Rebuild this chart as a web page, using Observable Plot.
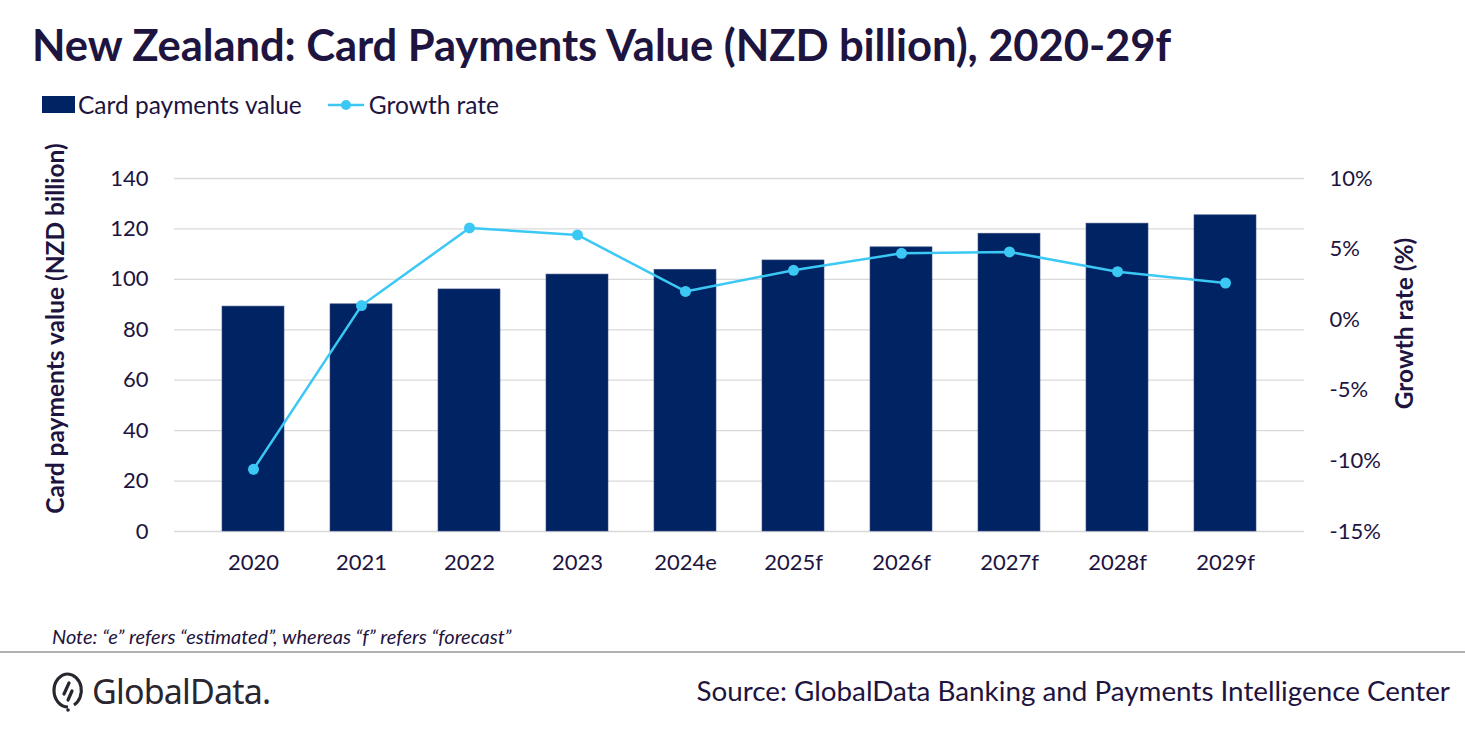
<!DOCTYPE html>
<html>
<head>
<meta charset="utf-8">
<script src="https://cdn.jsdelivr.net/npm/d3@7"></script>
<script src="https://cdn.jsdelivr.net/npm/@observablehq/plot@0.6"></script>
<style>
  html, body { margin: 0; padding: 0; background: #fff; }
  body { width: 1465px; height: 735px; position: relative; overflow: hidden; font-family: Lato, "Open Sans", sans-serif; color: #1e1440; }
  .abs { position: absolute; white-space: nowrap; }
  #title { left: 32px; top: 18px; font-size: 43.6px; font-weight: 700; letter-spacing: -0.1px; }
  #legend { left: 42px; top: 90px; font-size: 24.5px; display: flex; align-items: center; }
  .sw { display: inline-block; width: 33px; height: 17px; background: #002463; margin-right: 3px; }
  .ylab { font-size: 24.5px; font-weight: 700; transform-origin: center center; }
  #note { left: 52px; top: 624px; font-size: 20px; font-style: italic; }
  #sep { left: 0; top: 651px; width: 1465px; height: 0; border-top: 2px solid #b0b0b0; }
  #source { right: 15px; top: 674px; font-size: 27.8px; }
  #logo { left: 52px; top: 668px; display: flex; align-items: center; }
  #logo span { font-size: 34px; font-family: "Noto Sans", sans-serif; color: #2a2630; letter-spacing: -0.8px; margin-left: 8px; }
  #chart { position: absolute; left: 0; top: 140px; }
</style>
</head>
<body>
<div id="title" class="abs">New Zealand: Card Payments Value (NZD billion), 2020-29f</div>
<div id="legend" class="abs">
  <span class="sw"></span><span>Card payments value</span>
  <svg width="40" height="20" style="margin-left:24px;margin-right:3px"><line x1="2" y1="10" x2="38" y2="10" stroke="#3cc8f5" stroke-width="2.5"/><circle cx="20" cy="10" r="5" fill="#3cc8f5"/></svg>
  <span>Growth rate</span>
</div>
<div id="chart"></div>
<div class="abs ylab" id="ylabL">Card payments value (NZD billion)</div>
<div class="abs ylab" id="ylabR">Growth rate (%)</div>
<div id="note" class="abs">Note: “e” refers “estimated”, whereas “f” refers “forecast”</div>
<div id="sep" class="abs"></div>
<div id="logo" class="abs">
  <svg width="32" height="42" viewBox="0 0 32 42"><path d="M16 4 A14 16.5 0 1 0 16 37" fill="none" stroke="#2a2630" stroke-width="3.2"/><path d="M16 4 A14 16.5 0 0 1 22 35" fill="none" stroke="#2a2630" stroke-width="3.2"/><line x1="17" y1="13" x2="12" y2="24" stroke="#2a2630" stroke-width="3.2" stroke-linecap="round"/><line x1="16" y1="30" x2="20" y2="21" stroke="#2a2630" stroke-width="3.2" stroke-linecap="round"/><circle cx="16" cy="40" r="1.8" fill="#2a2630"/></svg>
  <span>GlobalData.</span>
</div>
<div id="source" class="abs">Source: GlobalData Banking and Payments Intelligence Center</div>
<script>
const years = ["2020","2021","2022","2023","2024e","2025f","2026f","2027f","2028f","2029f"];
const cardValue = [89.2, 90.1, 96.0, 101.9, 103.8, 107.5, 112.7, 118.1, 122.1, 125.4];
const growthRate = [-10.6, 1.0, 6.5, 6.0, 2.0, 3.5, 4.7, 4.8, 3.4, 2.6];
const leftTicks = [0, 20, 40, 60, 80, 100, 120, 140];
const rightTicks = [-15, -10, -5, 0, 5, 10];

// map growth rate (-15..10) onto the value scale (0..140)
const g2y = g => (g + 15) * 140 / 25;
const y2g = y => Math.round(y * 25 / 140 - 15);

const data = years.map((yr, i) => ({year: yr, value: cardValue[i], growth: growthRate[i], gy: g2y(growthRate[i])}));

const chart = Plot.plot({
  width: 1465,
  height: 470,
  marginTop: 38,
  marginBottom: 79,
  marginLeft: 174,
  marginRight: 161,
  style: {fontFamily: "Lato, 'Open Sans', sans-serif", fontSize: "20px", color: "#1e1440", background: "transparent"},
  x: {domain: years, padding: 0.425, label: null},
  y: {domain: [0, 140], label: null},
  marks: [
    Plot.gridY(leftTicks, {stroke: "#d9d9d9", strokeOpacity: 1, strokeWidth: 1.3}),
    Plot.barY(data, {x: "year", y: "value", fill: "#002463", stroke: "#3a4f80", strokeWidth: 0.6}),
    Plot.line(data, {x: "year", y: "gy", stroke: "#3cc8f5", strokeWidth: 2.5}),
    Plot.dot(data, {x: "year", y: "gy", fill: "#3cc8f5", r: 5.5}),
    Plot.axisY(leftTicks, {anchor: "left", tickSize: 0, tickPadding: 26, fontSize: 22, label: null}),
    Plot.axisY(rightTicks.map(g2y), {anchor: "right", tickSize: 0, tickPadding: 25, fontSize: 22, tickFormat: v => y2g(v) + "%", label: null}),
    Plot.axisX({tickSize: 0, tickPadding: 23, fontSize: 22, label: null})
  ]
});
document.getElementById("chart").appendChild(chart);

// rotated axis titles
function placeRot(id, cx, cy) {
  const el = document.getElementById(id);
  const w = el.offsetWidth, h = el.offsetHeight;
  el.style.left = (cx - w / 2) + "px";
  el.style.top = (cy - h / 2) + "px";
  el.style.transform = "rotate(-90deg)";
}
placeRot("ylabL", 54, 328);
placeRot("ylabR", 1404, 323);
</script>
</body>
</html>
